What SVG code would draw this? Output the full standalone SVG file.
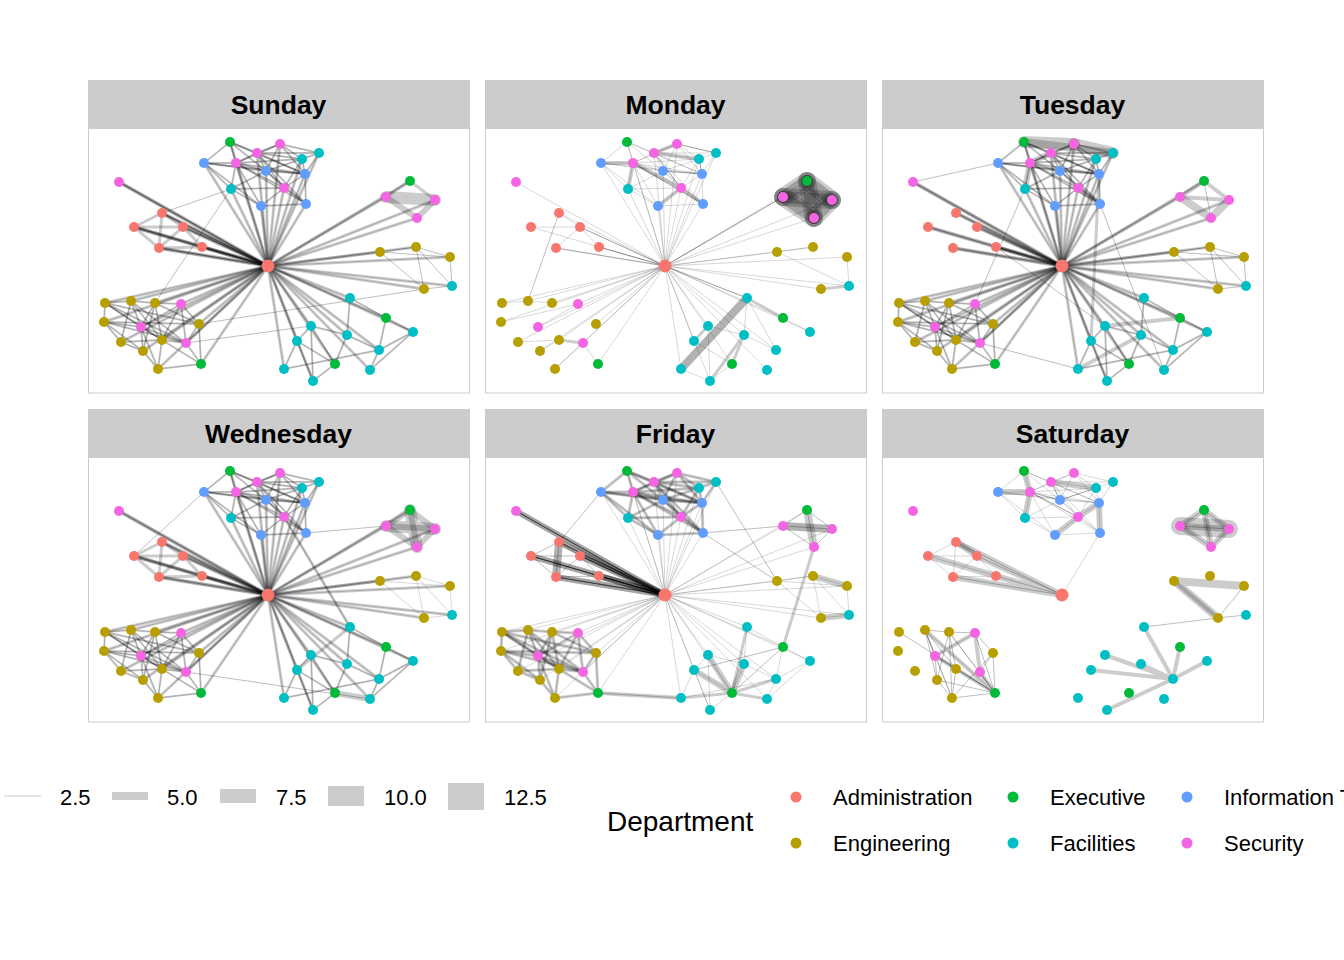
<svg xmlns="http://www.w3.org/2000/svg" xmlns:xlink="http://www.w3.org/1999/xlink" width="1344" height="960" viewBox="0 0 1344 960">
<style>
.ad{fill:#F8766D}.en{fill:#B79F00}.ex{fill:#00BA38}.fa{fill:#00BFC4}.it{fill:#619CFF}.se{fill:#F564E3}
.strip{fill:#CCCCCC}
.frame{fill:#FFFFFF;stroke:#CCCCCC;stroke-width:1}
.st{font-family:"Liberation Sans",Arial,sans-serif;font-weight:bold;font-size:26.5px;fill:#000;text-anchor:middle}
.lg{font-family:"Liberation Sans",Arial,sans-serif;font-size:22px;fill:#000}
.lt{font-family:"Liberation Sans",Arial,sans-serif;font-size:28px;fill:#000}
.t1{stroke-width:.8;stroke-opacity:.2}
.t2{stroke-width:.8;stroke-opacity:.32}
.t3{stroke-width:1;stroke-opacity:.45}
.m2{stroke-width:2;stroke-opacity:.2}
.m3{stroke-width:3;stroke-opacity:.2}
.m4{stroke-width:4;stroke-opacity:.2}
.m6{stroke-width:6;stroke-opacity:.2}
.m8{stroke-width:8;stroke-opacity:.2}
.m12{stroke-width:12;stroke-opacity:.2}
.m18{stroke-width:18;stroke-opacity:.2}
.d8{stroke-width:8;stroke-opacity:.3}
.d12{stroke-width:12;stroke-opacity:.22}
</style>
<defs>
<g id="sT"><path d="M180 137L142 13"/><path d="M180 137L192 15"/><path d="M180 137L169 24"/><path d="M180 137L231 24"/><path d="M180 137L116 34"/><path d="M180 137L148 34"/><path d="M180 137L214 30"/><path d="M180 137L178 42"/><path d="M180 137L217 45"/><path d="M180 137L143 60"/><path d="M180 137L196 59"/><path d="M180 137L173 77"/><path d="M180 137L218 75"/></g>
<g id="sS"><path d="M180 137L74 84"/><path d="M180 137L46 98"/><path d="M180 137L95 98"/><path d="M180 137L71 119"/><path d="M180 137L114 118"/><path d="M180 137L31 53"/></g>
<g id="sR"><path d="M180 137L322 52"/><path d="M180 137L298 68"/><path d="M180 137L347 71"/><path d="M180 137L329 89"/><path d="M180 137L292 123"/><path d="M180 137L328 118"/><path d="M180 137L362 128"/><path d="M180 137L336 160"/><path d="M180 137L364 157"/></g>
<g id="sC"><path d="M180 137L262 169"/><path d="M180 137L298 189"/><path d="M180 137L325 203"/><path d="M180 137L223 197"/><path d="M180 137L259 206"/><path d="M180 137L209 212"/><path d="M180 137L291 221"/><path d="M180 137L247 235"/><path d="M180 137L196 240"/><path d="M180 137L225 252"/><path d="M180 137L282 241"/></g>
<g id="sL"><path d="M180 137L17 174"/><path d="M180 137L43 172"/><path d="M180 137L67 174"/><path d="M180 137L93 175"/><path d="M180 137L16 193"/><path d="M180 137L53 198"/><path d="M180 137L111 195"/><path d="M180 137L33 213"/><path d="M180 137L74 211"/><path d="M180 137L98 214"/><path d="M180 137L55 222"/><path d="M180 137L70 240"/><path d="M180 137L113 235"/></g>
<g id="star"><use href="#sT"/><use href="#sS"/><use href="#sR"/><use href="#sC"/><use href="#sL"/></g>
<g id="topD"><path d="M142 13L169 24"/><path d="M142 13L148 34"/><path d="M142 13L116 34"/><path d="M142 13L178 42"/><path d="M192 15L169 24"/><path d="M192 15L148 34"/><path d="M192 15L214 30"/><path d="M192 15L231 24"/><path d="M192 15L178 42"/><path d="M192 15L217 45"/><path d="M169 24L148 34"/><path d="M169 24L178 42"/><path d="M169 24L214 30"/><path d="M169 24L217 45"/><path d="M169 24L196 59"/><path d="M231 24L214 30"/><path d="M231 24L217 45"/><path d="M116 34L148 34"/><path d="M116 34L178 42"/><path d="M116 34L143 60"/><path d="M116 34L173 77"/><path d="M148 34L178 42"/><path d="M148 34L217 45"/><path d="M148 34L196 59"/><path d="M148 34L143 60"/><path d="M214 30L178 42"/><path d="M214 30L217 45"/><path d="M214 30L196 59"/><path d="M148 34L214 30"/><path d="M178 42L217 45"/><path d="M178 42L196 59"/><path d="M178 42L218 75"/><path d="M178 42L143 60"/><path d="M217 45L196 59"/><path d="M217 45L218 75"/><path d="M143 60L196 59"/><path d="M143 60L173 77"/><path d="M196 59L173 77"/><path d="M196 59L218 75"/><path d="M173 77L218 75"/><path d="M169 24L218 75"/><path d="M148 34L218 75"/><path d="M116 34L217 45"/><path d="M142 13L217 45"/><path d="M169 24L231 24"/><path d="M148 34L173 77"/></g>
<g id="llD"><path d="M17 174L43 172"/><path d="M17 174L16 193"/><path d="M17 174L53 198"/><path d="M17 174L74 211"/><path d="M43 172L67 174"/><path d="M43 172L53 198"/><path d="M43 172L33 213"/><path d="M43 172L98 214"/><path d="M67 174L93 175"/><path d="M67 174L53 198"/><path d="M67 174L111 195"/><path d="M67 174L74 211"/><path d="M93 175L53 198"/><path d="M93 175L98 214"/><path d="M93 175L111 195"/><path d="M16 193L53 198"/><path d="M16 193L33 213"/><path d="M16 193L55 222"/><path d="M16 193L98 214"/><path d="M53 198L74 211"/><path d="M53 198L55 222"/><path d="M53 198L70 240"/><path d="M53 198L98 214"/><path d="M111 195L98 214"/><path d="M33 213L55 222"/><path d="M33 213L74 211"/><path d="M74 211L98 214"/><path d="M74 211L70 240"/><path d="M74 211L113 235"/><path d="M98 214L113 235"/><path d="M55 222L70 240"/><path d="M70 240L113 235"/><path d="M111 195L113 235"/><path d="M43 172L74 211"/><path d="M17 174L98 214"/><path d="M67 174L55 222"/><path d="M93 175L74 211"/><path d="M16 193L111 195"/><path d="M17 174L111 195"/></g>
<g id="salD"><path d="M74 84L46 98"/><path d="M74 84L95 98"/><path d="M46 98L95 98"/><path d="M46 98L71 119"/><path d="M95 98L114 118"/><path d="M71 119L114 118"/><path d="M74 84L71 119"/><path d="M95 98L71 119"/><path d="M46 98L114 118"/></g>
<g id="rightD"><path d="M322 52L298 68"/><path d="M322 52L347 71"/><path d="M322 52L329 89"/><path d="M298 68L347 71"/><path d="M298 68L329 89"/><path d="M347 71L329 89"/></g>
<g id="oliveR"><path d="M292 123L328 118"/><path d="M328 118L362 128"/><path d="M362 128L364 157"/><path d="M292 123L336 160"/><path d="M336 160L364 157"/><path d="M328 118L364 157"/><path d="M328 118L336 160"/><path d="M292 123L362 128"/></g>
<g id="cyanD"><path d="M262 169L298 189"/><path d="M298 189L325 203"/><path d="M298 189L291 221"/><path d="M325 203L291 221"/><path d="M223 197L209 212"/><path d="M223 197L259 206"/><path d="M209 212L196 240"/><path d="M209 212L225 252"/><path d="M196 240L291 221"/><path d="M223 197L225 252"/><path d="M259 206L291 221"/><path d="M291 221L282 241"/><path d="M247 235L225 252"/><path d="M259 206L247 235"/><path d="M223 197L247 235"/><path d="M325 203L282 241"/><path d="M262 169L259 206"/><path d="M209 212L247 235"/></g>
<g id="nodes">
<g id="n1"><circle class="ex" cx="142" cy="13" r="5"/></g>
<g id="n2"><circle class="se" cx="192" cy="15" r="5"/></g>
<g id="n3"><circle class="se" cx="169" cy="24" r="5"/></g>
<g id="n4"><circle class="fa" cx="231" cy="24" r="5"/></g>
<g id="n5"><circle class="it" cx="116" cy="34" r="5"/></g>
<g id="n6"><circle class="se" cx="148" cy="34" r="5"/></g>
<g id="n7"><circle class="fa" cx="214" cy="30" r="5"/></g>
<g id="n8"><circle class="it" cx="178" cy="42" r="5"/></g>
<g id="n9"><circle class="it" cx="217" cy="45" r="5"/></g>
<g id="n10"><circle class="fa" cx="143" cy="60" r="5"/></g>
<g id="n11"><circle class="se" cx="196" cy="59" r="5"/></g>
<g id="n12"><circle class="it" cx="173" cy="77" r="5"/></g>
<g id="n13"><circle class="it" cx="218" cy="75" r="5"/></g>
<g id="n14"><circle class="se" cx="31" cy="53" r="5"/></g>
<g id="n15"><circle class="ex" cx="322" cy="52" r="5"/></g>
<g id="n16"><circle class="se" cx="298" cy="68" r="5"/></g>
<g id="n17"><circle class="se" cx="347" cy="71" r="5"/></g>
<g id="n18"><circle class="se" cx="329" cy="89" r="5"/></g>
<g id="n19"><circle class="ad" cx="74" cy="84" r="5"/></g>
<g id="n20"><circle class="ad" cx="46" cy="98" r="5"/></g>
<g id="n21"><circle class="ad" cx="95" cy="98" r="5"/></g>
<g id="n22"><circle class="ad" cx="71" cy="119" r="5"/></g>
<g id="n23"><circle class="ad" cx="114" cy="118" r="5"/></g>
<g id="n24"><circle class="ad" cx="180" cy="137" r="6.5"/></g>
<g id="n25"><circle class="en" cx="292" cy="123" r="5"/></g>
<g id="n26"><circle class="en" cx="328" cy="118" r="5"/></g>
<g id="n27"><circle class="en" cx="362" cy="128" r="5"/></g>
<g id="n28"><circle class="en" cx="336" cy="160" r="5"/></g>
<g id="n29"><circle class="fa" cx="364" cy="157" r="5"/></g>
<g id="n30"><circle class="fa" cx="262" cy="169" r="5"/></g>
<g id="n31"><circle class="ex" cx="298" cy="189" r="5"/></g>
<g id="n32"><circle class="fa" cx="325" cy="203" r="5"/></g>
<g id="n33"><circle class="fa" cx="223" cy="197" r="5"/></g>
<g id="n34"><circle class="fa" cx="259" cy="206" r="5"/></g>
<g id="n35"><circle class="fa" cx="209" cy="212" r="5"/></g>
<g id="n36"><circle class="fa" cx="291" cy="221" r="5"/></g>
<g id="n37"><circle class="ex" cx="247" cy="235" r="5"/></g>
<g id="n38"><circle class="fa" cx="196" cy="240" r="5"/></g>
<g id="n39"><circle class="fa" cx="225" cy="252" r="5"/></g>
<g id="n40"><circle class="fa" cx="282" cy="241" r="5"/></g>
<g id="n41"><circle class="en" cx="17" cy="174" r="5"/></g>
<g id="n42"><circle class="en" cx="43" cy="172" r="5"/></g>
<g id="n43"><circle class="en" cx="67" cy="174" r="5"/></g>
<g id="n44"><circle class="se" cx="93" cy="175" r="5"/></g>
<g id="n45"><circle class="en" cx="16" cy="193" r="5"/></g>
<g id="n46"><circle class="se" cx="53" cy="198" r="5"/></g>
<g id="n47"><circle class="en" cx="111" cy="195" r="5"/></g>
<g id="n48"><circle class="en" cx="33" cy="213" r="5"/></g>
<g id="n49"><circle class="en" cx="74" cy="211" r="5"/></g>
<g id="n50"><circle class="se" cx="98" cy="214" r="5"/></g>
<g id="n51"><circle class="en" cx="55" cy="222" r="5"/></g>
<g id="n52"><circle class="en" cx="70" cy="240" r="5"/></g>
<g id="n53"><circle class="ex" cx="113" cy="235" r="5"/></g>
</g>
</defs>
<rect width="1344" height="960" fill="#FFFFFF"/>
<g id="panels">
<rect class="frame" x="88.5" y="80.5" width="381" height="312.5"/><rect class="strip" x="88" y="80" width="382" height="49"/><text class="st" x="278.5" y="114">Sunday</text>
<rect class="frame" x="485.5" y="80.5" width="381" height="312.5"/><rect class="strip" x="485" y="80" width="382" height="49"/><text class="st" x="675.5" y="114">Monday</text>
<rect class="frame" x="882.5" y="80.5" width="381" height="312.5"/><rect class="strip" x="882" y="80" width="382" height="49"/><text class="st" x="1072.5" y="114">Tuesday</text>
<rect class="frame" x="88.5" y="409.5" width="381" height="312.5"/><rect class="strip" x="88" y="409" width="382" height="49"/><text class="st" x="278.5" y="443">Wednesday</text>
<rect class="frame" x="485.5" y="409.5" width="381" height="312.5"/><rect class="strip" x="485" y="409" width="382" height="49"/><text class="st" x="675.5" y="443">Friday</text>
<rect class="frame" x="882.5" y="409.5" width="381" height="312.5"/><rect class="strip" x="882" y="409" width="382" height="49"/><text class="st" x="1072.5" y="443">Saturday</text>
</g>
<g id="connectors" fill="none" stroke="#000" stroke-linecap="round">
<g id="edges-sunday" transform="translate(88,129)">
<use href="#star" class="m3"/><use href="#star" class="t1"/>
<use href="#sS" class="m4"/><use href="#sS" class="t2"/><use href="#sS" class="t2"/>
<use href="#topD" class="m2"/><use href="#topD" class="t1"/>
<use href="#llD" class="m2"/><use href="#llD" class="t1"/>
<use href="#salD" class="m3"/>
<use href="#oliveR" class="t2"/>
<use href="#cyanD" class="m2"/><use href="#cyanD" class="t1"/>
<path class="m12" d="M298 68L347 71"/>
<path class="m6" d="M298 68L329 89M347 71L329 89"/>
<path class="m3" d="M322 52L298 68M322 52L347 71"/>
<path class="t2" d="M143 60L67 174M74 84L143 60M111 195L336 160M98 214L223 197"/>
</g>
<g id="edges-monday" transform="translate(485,129)">
<use href="#star" class="t1"/>
<path class="t2" d="M95 98L180 137M114 118L180 137M298 68L180 137M262 169L180 137M71 119L180 137"/>
<use href="#topD" class="t1"/>
<path class="m4" d="M116 34L148 34M169 24L192 15M169 24L214 30M148 34L196 59M196 59L218 75M143 60L148 34M173 77L196 59"/>
<path class="t2" d="M169 24L196 59M178 42L217 45M148 34L218 75M192 15L231 24M214 30L217 45"/>
<use href="#rightD" class="m18"/><use href="#rightD" class="d12"/>
<path class="t1" d="M74 84L95 98M46 98L95 98M95 98L71 119M114 118L95 98"/>
<path class="t2" d="M74 84L43 172"/>
<path class="t1" d="M292 123L328 118M362 128L364 157M292 123L364 157"/>
<path class="m3" d="M336 160L364 157"/>
<path class="d8" d="M262 169L196 240"/>
<path class="m3" d="M259 206L225 252M259 206L247 235M262 169L298 189M209 212L223 197"/>
<path class="t1" d="M262 169L259 206M298 189L325 203M223 197L259 206M223 197L225 252M209 212L247 235M247 235L225 252M196 240L225 252M259 206L291 221M262 169L291 221"/>
<path class="t1" d="M17 174L43 172M43 172L67 174M16 193L93 175M53 198L93 175M33 213L74 211M70 240L98 214M113 235L98 214M55 222L74 211"/>
<path class="m3" d="M74 211L98 214"/>
</g>
<g id="edges-tuesday" transform="translate(882,129)">
<use href="#star" class="m3"/><use href="#star" class="t1"/>
<use href="#sS" class="m4"/><use href="#sS" class="t2"/>
<use href="#topD" class="m2"/><use href="#topD" class="t1"/>
<path class="m12" d="M142 13L192 15"/><path class="m12" d="M192 15L231 24"/><path class="m8" d="M142 13L231 24"/>
<path class="m6" d="M148 34L143 60M148 34L169 24M196 59L218 75"/>
<path class="m8" d="M298 68L329 89M329 89L347 71"/>
<path class="m4" d="M322 52L298 68M322 52L347 71M298 68L347 71"/>
<path class="t2" d="M322 52L329 89"/>
<use href="#oliveR" class="t2"/>
<use href="#cyanD" class="m2"/><use href="#cyanD" class="t1"/>
<path class="m4" d="M298 189L223 197M196 240L259 206"/>
<use href="#llD" class="m2"/><use href="#llD" class="t1"/>
<path class="t2" d="M31 53L116 34M218 75L282 241M143 60L93 175M114 118L223 197M98 214L196 240"/>
<path class="m3" d="M217 45L209 212"/>
</g>
<g id="edges-wednesday" transform="translate(88,458)">
<use href="#star" class="m3"/><use href="#star" class="t1"/>
<use href="#sS" class="m4"/><use href="#sS" class="t2"/>
<use href="#topD" class="m2"/><use href="#topD" class="t1"/>
<use href="#salD" class="m3"/>
<use href="#rightD" class="m6"/>
<path class="m12" d="M298 68L347 71M322 52L329 89"/>
<path class="t2" d="M116 34L46 98"/>
<path class="m3" d="M196 59L262 169"/><path class="t2" d="M196 59L262 169"/>
<path class="t2" d="M218 75L298 68M98 214L282 241"/>
<use href="#cyanD" class="m2"/><use href="#cyanD" class="t1"/>
<path class="m6" d="M247 235L282 241"/>
<path class="m3" d="M262 169L209 212"/>
<use href="#llD" class="m2"/><use href="#llD" class="t1"/>
<use href="#oliveR" class="t1"/>
</g>
<g id="edges-friday" transform="translate(485,458)">
<use href="#star" class="t1"/>
<use href="#sS" class="m6"/><use href="#sS" class="m6"/><use href="#sS" class="t2"/><use href="#sS" class="t2"/><use href="#sS" class="t2"/>
<use href="#topD" class="m3"/><use href="#topD" class="t1"/>
<use href="#salD" class="t2"/>
<path class="d8" d="M74 84L71 119"/>
<use href="#rightD" class="t2"/>
<path class="d8" d="M298 68L347 71"/>
<path class="m8" d="M322 52L329 89"/>
<path class="m3" d="M329 89L298 189"/>
<use href="#oliveR" class="t1"/>
<path class="m6" d="M328 118L362 128M336 160L364 157"/>
<path class="m4" d="M113 235L196 240"/><path class="t2" d="M113 235L196 240"/>
<path class="m3" d="M196 240L247 235M247 235L262 169M247 235L291 221M247 235L282 241"/>
<path class="m6" d="M247 235L259 206M247 235L223 197M209 212L247 235"/>
<use href="#cyanD" class="t1"/>
<path class="t2" d="M298 189L247 235M298 189L209 212"/>
<use href="#llD" class="m3"/><use href="#llD" class="t1"/>
<path class="t2" d="M116 34L74 84M218 75L298 68M231 24L292 123M218 75L292 123"/>
</g>
<g id="edges-saturday" transform="translate(882,458)">
<use href="#topD" class="t1"/>
<path class="m6" d="M142 13L148 34M116 34L148 34M169 24L214 30M217 45L196 59M196 59L173 77M217 45L218 75M143 60L148 34"/>
<path class="t2" d="M148 34L178 42M178 42L214 30M148 34L196 59M169 24L178 42"/>
<path class="t1" d="M218 75L180 137"/>
<use href="#salD" class="t1"/>
<path class="m6" d="M74 84L95 98M46 98L114 118"/>
<path class="m6" d="M74 84L180 137M95 98L180 137M71 119L180 137M114 118L180 137"/>
<path class="t2" d="M95 98L180 137"/><path class="t2" d="M71 119L180 137"/><path class="t2" d="M114 118L180 137M74 84L180 137"/>
<use href="#rightD" class="m6"/><use href="#rightD" class="t2"/>
<path class="m18" d="M298 68L347 71"/>
<path class="m8" d="M292 123L362 128M292 123L336 160"/>
<path class="m4" d="M292 123L336 160"/>
<path class="t2" d="M362 128L336 160M336 160L364 157M336 160L262 169"/>
<path class="m4" d="M291 221L262 169M291 221L223 197M291 221L259 206M291 221L209 212M291 221L298 189M291 221L325 203M291 221L225 252"/>
<path class="m4" d="M43 172L113 235M93 175L53 198M93 175L98 214M53 198L113 235M98 214L113 235"/>
<path class="t2" d="M17 174L113 235M43 172L55 222M43 172L70 240M43 172L53 198M43 172L67 174M67 174L93 175M67 174L70 240M67 174L113 235M93 175L111 195M53 198L74 211M53 198L55 222M111 195L113 235M111 195L98 214M74 211L113 235M74 211L70 240M55 222L113 235M70 240L113 235M55 222L70 240M67 174L74 211M43 172L74 211M67 174L55 222M93 175L113 235M111 195L70 240"/>
<path class="t1" d="M43 172L113 235M53 198L113 235M98 214L113 235M93 175L53 198M43 172L70 240M67 174L113 235"/>
</g>
</g>
<g id="nodes-sunday" transform="translate(88,129)"><use href="#nodes"/></g>
<g id="nodes-monday" transform="translate(485,129)"><use href="#nodes"/></g>
<g id="nodes-tuesday" transform="translate(882,129)"><use href="#nodes"/></g>
<g id="nodes-wednesday" transform="translate(88,458)"><use href="#nodes"/></g>
<g id="nodes-friday" transform="translate(485,458)"><use href="#nodes"/></g>
<g id="nodes-saturday" transform="translate(882,458)"><use href="#nodes"/></g>
<g id="legend-width">
<line x1="4" y1="796" x2="41" y2="796" stroke="#CCCCCC" stroke-width="1"/>
<text class="lg" x="60" y="805">2.5</text>
<rect x="112" y="792" width="36" height="8" fill="#CCCCCC"/>
<text class="lg" x="167" y="805">5.0</text>
<rect x="220" y="789" width="36" height="14" fill="#CCCCCC"/>
<text class="lg" x="276" y="805">7.5</text>
<rect x="328" y="786" width="36" height="20" fill="#CCCCCC"/>
<text class="lg" x="384" y="805">10.0</text>
<rect x="448" y="783" width="36" height="27" fill="#CCCCCC"/>
<text class="lg" x="504" y="805">12.5</text>
</g>
<g id="legend-department">
<text class="lt" x="607" y="831">Department</text>
<circle class="ad" cx="796" cy="797" r="5.5"/><text class="lg" x="833" y="805">Administration</text>
<circle class="en" cx="796" cy="843" r="5.5"/><text class="lg" x="833" y="851">Engineering</text>
<circle class="ex" cx="1013" cy="797" r="5.5"/><text class="lg" x="1050" y="805">Executive</text>
<circle class="fa" cx="1013" cy="843" r="5.5"/><text class="lg" x="1050" y="851">Facilities</text>
<circle class="it" cx="1187" cy="797" r="5.5"/><text class="lg" x="1224" y="805">Information Technology</text>
<circle class="se" cx="1187" cy="843" r="5.5"/><text class="lg" x="1224" y="851">Security</text>
</g>
</svg>
